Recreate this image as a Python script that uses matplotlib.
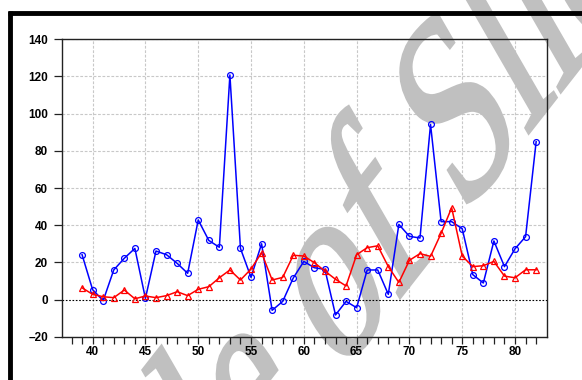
import matplotlib.pyplot as plt
import numpy as np
from matplotlib.lines import Line2D
from matplotlib.patches import PathPatch
from matplotlib.textpath import TextPath
from matplotlib.font_manager import FontProperties
from matplotlib.transforms import Affine2D

# yearly series, 1939-1982
years = list(range(39, 83))
blue_vals = [24.1, 5.3, -0.6, 15.9, 22.2, 27.5, 0.6, 26.1, 24.1, 19.5,
             14.1, 42.8, 31.8, 28.1, 120.8, 27.5, 11.9, 30.0, -5.8, -1.0,
             11.6, 20.5, 17.1, 16.2, -8.3, -1.0, -4.4, 15.9, 15.9, 2.8,
             40.4, 34.0, 33.1, 94.2, 41.9, 41.9, 38.1, 13.4, 8.9, 31.5,
             17.7, 27.3, 33.8, 84.9]
red_vals = [6.3, 2.8, 1.5, 1.0, 5.1, 0.4, 1.9, 1.0, 2.1, 4.2,
            2.1, 5.5, 6.9, 11.7, 15.9, 10.5, 16.4, 25.2, 10.5, 11.9,
            23.8, 23.4, 19.8, 15.3, 10.9, 7.3, 24.1, 27.9, 28.9, 17.7,
            9.2, 21.1, 24.7, 23.2, 35.6, 49.4, 23.4, 17.7, 18.2, 20.5,
            12.6, 11.7, 16.0, 16.0]
x_major = [40, 45, 50, 55, 60, 65, 70, 75, 80]
x_minor = list(range(38, 83))
y_major = [-20, 0, 20, 40, 60, 80, 100, 120, 140]

W, H = 582, 380
fig = plt.figure(figsize=(W / 100, H / 100), dpi=100)
fig.patch.set_facecolor('white')
ax = fig.add_axes([62 / W, 43.3 / H, (546.7 - 62) / W, (340.7 - 43.3) / H])

ax.plot(years, blue_vals, color='#0000ff', lw=1.1, marker='o', ms=4.2,
        mfc='none', mec='#0000ff', mew=0.9, zorder=3)
ax.plot(years, red_vals, color='#ff0000', lw=1.1, marker='^', ms=5,
        mfc='none', mec='#ff0000', mew=0.9, zorder=3)
ax.axhline(0, color='black', lw=0.8, ls=(0, (1.5, 1.5)), zorder=2)

ax.set_xlim(37.1, 83)
ax.set_ylim(-20, 140)
ax.set_xticks(x_major)
ax.set_xticks(x_minor, minor=True)
ax.set_yticks(y_major)

# dashed grid kept underneath the watermark
grid_kw = dict(color='#c8c8c8', lw=0.8, ls=(0, (2.5, 1.5)), zorder=0.5)
for xv in x_major:
    ax.axvline(xv, **grid_kw)
for yv in y_major:
    if yv != 0:
        ax.axhline(yv, **grid_kw)

for side in ['left', 'bottom', 'top', 'right']:
    ax.spines[side].set_color('#222222')
    ax.spines[side].set_linewidth(1.0)
    ax.spines[side].set_zorder(4)

ax.tick_params(axis='x', which='both', direction='out', length=5, width=0.9,
               colors='#222222', pad=2)
ax.tick_params(axis='y', direction='out', length=6, width=0.9,
               colors='#222222', pad=4)
ax.set_xticklabels([str(v) for v in x_major], fontsize=8.5, fontweight='bold',
                   family='Liberation Sans', color='black')
ax.set_yticklabels([str(v).replace('-', '\u2013') for v in y_major], fontsize=8.5,
                   fontweight='bold', family='Liberation Sans', color='black')

# big slanted watermark text (baseline and letter-up axes in pixels per em)
fp = FontProperties(family='Liberation Serif')
tp = TextPath((0, 0), "Sample of Slides", size=1, prop=fp)
pre = TextPath((0, 0), "Sample ", size=1, prop=fp).get_extents().width + 0.25
a, b = np.deg2rad(52), np.deg2rad(120)
su, sv = 187, 245
mtx = np.array([[su * np.cos(a), sv * np.cos(b), 0],
                [su * np.sin(a), sv * np.sin(b), 0],
                [0, 0, 1]])
ox, oy = 326, -12
tr = Affine2D().translate(-pre, 0) + Affine2D(mtx) + Affine2D().translate(ox, oy)
wm = PathPatch(tp, transform=tr, facecolor='#c0c0c0', edgecolor='#c0c0c0',
               lw=2.5, zorder=1, clip_on=False)
ax.add_artist(wm)

# heavy frame around the chart
fig.add_artist(Line2D([8 / W, 1], [1 - 13 / H, 1 - 13 / H], color='black',
                      lw=3.5, transform=fig.transFigure, solid_capstyle='butt'))
fig.add_artist(Line2D([10 / W, 10 / W], [0, 1 - 11 / H], color='black',
                      lw=3.5, transform=fig.transFigure, solid_capstyle='butt'))

fig.savefig('out.png', dpi=100)
